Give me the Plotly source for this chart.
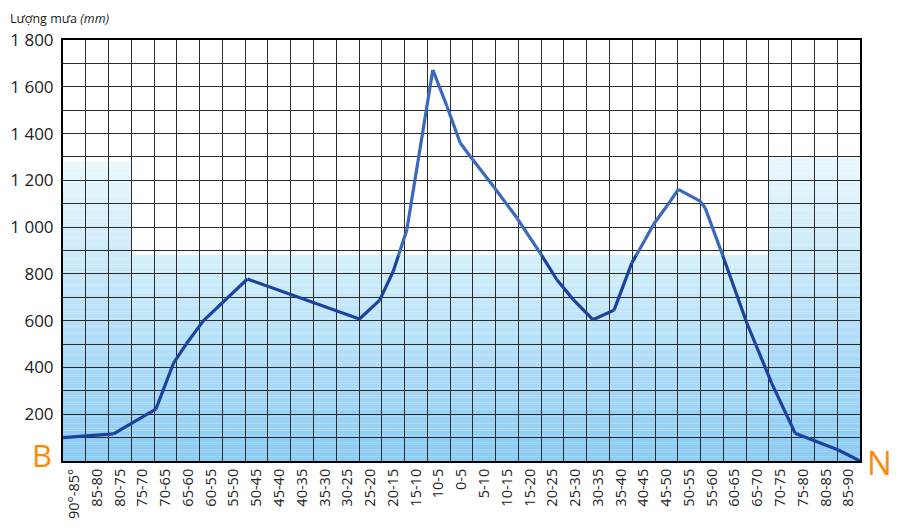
import plotly.graph_objects as go

# ---------------- data ----------------
lat_labels = ["90°-85°", "85-80", "80-75", "75-70", "70-65", "65-60", "60-55", "55-50",
              "50-45", "45-40", "40-35", "35-30", "30-25", "25-20", "20-15", "15-10",
              "10-5", "0-5", "5-10", "10-15", "15-20", "20-25", "25-30", "30-35",
              "35-40", "40-45", "45-50", "50-55", "55-60", "60-65", "65-70", "70-75",
              "75-80", "80-85", "85-90"]

# positions along the latitude axis (in band units) and rainfall (mm)
rain_pos = [0, 2.22, 4.08, 4.86, 5.41, 6.17, 8.1, 13.02, 13.9, 14.5, 15.1, 16.24,
            16.86, 17.44, 17.88, 18.9, 19.93, 20.95, 21.69, 22.41, 23.27, 24.2,
            24.98, 25.56, 25.93, 26.51, 27.02, 27.98, 28.2, 28.93, 30.03, 31.12,
            32.15, 34.05, 35]
rain_mm = [100, 116, 222, 420, 500, 600, 778, 607, 687, 810, 989, 1672,
           1517, 1361, 1303, 1175, 1040, 890, 775, 690, 604, 645,
           847, 946, 1011, 1089, 1161, 1111, 1082, 890, 590, 333,
           119, 47, 0]

y_ticks = [200, 400, 600, 800, 1000, 1200, 1400, 1600, 1800]
y_ticktext = ["200", "400", "600", "800", "1 000", "1 200", "1 400", "1 600", "1 800"]

BAND_TOP = 880  # level where the blue shading of the middle band ends

# ---------------- background gradient (decor) ----------------
def mix(c1, c2, t):
    return "rgb(%d,%d,%d)" % tuple(round(a + (b - a) * t) for a, b in zip(c1, c2))

BOTTOM = (138, 202, 243)
TOP_MID = (212, 240, 250)
TOP_SIDE = (234, 248, 252)

shapes = []
step = 10
def band(x0, x1, ytop, ctop):
    y = 0
    while y < ytop:
        t = (y + step / 2) / ytop
        shapes.append(dict(type="rect", xref="x", yref="y", x0=x0, x1=x1, y0=y,
                           y1=min(y + step, ytop) + 0.5, layer="below",
                           line=dict(width=0), fillcolor=mix(BOTTOM, ctop, t)))
        y += step

band(0, 3, 1280, TOP_SIDE)
band(3, 31, BAND_TOP, TOP_MID)
band(31, 35, 1300, TOP_SIDE)

# split the curve into parts below / above the shading level (printed tones differ)
def split(xs, ys, lvl):
    lo_x, lo_y, hi_x, hi_y = [], [], [], []
    for i in range(len(xs) - 1):
        x0, y0, x1, y1 = xs[i], ys[i], xs[i + 1], ys[i + 1]
        pts = [(x0, y0)]
        if (y0 - lvl) * (y1 - lvl) < 0:
            xc = x0 + (lvl - y0) * (x1 - x0) / (y1 - y0)
            pts.append((xc, lvl))
        pts.append((x1, y1))
        for (a, b), (c, d) in zip(pts[:-1], pts[1:]):
            tx, ty = (hi_x, hi_y) if (b + d) / 2 > lvl else (lo_x, lo_y)
            tx += [a, c, None]
            ty += [b, d, None]
    return lo_x, lo_y, hi_x, hi_y

lo_x, lo_y, hi_x, hi_y = split(rain_pos, rain_mm, BAND_TOP)

fig = go.Figure()
fig.add_trace(go.Scatter(
    x=lo_x, y=lo_y, mode="lines", connectgaps=False,
    line=dict(color="#1b429e", width=3.2),
    hoverinfo="skip", showlegend=False, cliponaxis=False))
fig.add_trace(go.Scatter(
    x=hi_x, y=hi_y, mode="lines", connectgaps=False,
    line=dict(color="#3a68bb", width=3.2),
    hoverinfo="skip", showlegend=False, cliponaxis=False))

grid_c = "#2b2b2b"
fig.update_layout(
    width=905, height=528,
    margin=dict(l=55, r=53, t=32, b=75),
    paper_bgcolor="white", plot_bgcolor="white",
    shapes=shapes,
    font=dict(family="Open Sans, Noto Sans, sans-serif", color="#222"),
    xaxis=dict(
        range=[0, 35], tickmode="array", automargin=False,
        tickvals=[i + 0.5 for i in range(len(lat_labels))], ticktext=lat_labels,
        tickangle=-90, tickfont=dict(size=14.5, color="#222"),
        showgrid=False, ticks="", zeroline=False,
        showline=True, mirror=True, linecolor="black", linewidth=2,
        minor=dict(tickmode="array", tickvals=list(range(36)), showgrid=True,
                   gridcolor=grid_c, gridwidth=1, ticks=""),
    ),
    yaxis=dict(
        range=[0, 1800], tickmode="array", tickvals=y_ticks, ticktext=y_ticktext,
        automargin=False,
        tickfont=dict(size=17, color="#222"), ticklabelstandoff=4,
        showgrid=True, gridcolor=grid_c, gridwidth=1, zeroline=False, ticks="",
        showline=True, mirror=True, linecolor="black", linewidth=2,
        minor=dict(dtick=100, tick0=0, showgrid=True, gridcolor=grid_c, gridwidth=1, ticks=""),
    ),
    annotations=[
        dict(text="Lượng mưa <i>(mm)</i>", xref="paper", yref="paper",
             x=-0.069, y=1.052, xanchor="left", yanchor="middle", showarrow=False,
             font=dict(size=12.5, color="#222")),
        dict(text="B", xref="paper", yref="paper", x=-0.026, y=0.014,
             xanchor="center", yanchor="middle", showarrow=False,
             font=dict(size=31, color="#ff8a00")),
        dict(text="N", xref="paper", yref="paper", x=1.025, y=-0.003,
             xanchor="center", yanchor="middle", showarrow=False,
             font=dict(size=33, color="#ff8a00")),
    ],
)

fig.write_html("out.html")
